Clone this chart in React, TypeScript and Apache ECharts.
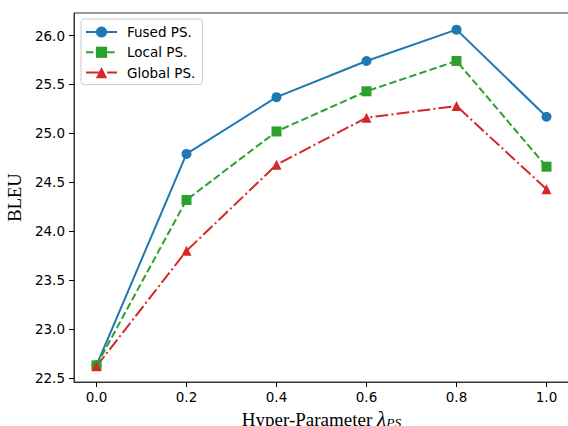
import React, { useEffect, useRef } from "react";
import * as echarts from "echarts";

const xValues = [0.0, 0.2, 0.4, 0.6, 0.8, 1.0];
const fused = [22.63, 24.79, 25.37, 25.74, 26.06, 25.17];
const local = [22.63, 24.32, 25.02, 25.43, 25.74, 24.66];
const globalPS = [22.62, 23.8, 24.68, 25.16, 25.28, 24.43];
const xTicks = [0.0, 0.2, 0.4, 0.6, 0.8, 1.0];
const yTicks = [22.5, 23.0, 23.5, 24.0, 24.5, 25.0, 25.5, 26.0];

const SANS = "DejaVu Sans";
const SERIF = "Liberation Serif";

export default function App() {
  const ref = useRef<HTMLDivElement>(null);
  useEffect(() => {
    if (!ref.current) return;
    const chart = echarts.init(ref.current, undefined, { renderer: "svg" });
    const mk = (name: string, data: number[], color: string, symbol: string, type: any) => ({
      name,
      type: "line",
      data: xValues.map((x, i) => [x, data[i]]),
      symbol,
      symbolSize: 10,
      showSymbol: true,
      lineStyle: { color, width: 2, type },
      itemStyle: { color, borderWidth: 0 },
      emphasis: { disabled: true },
      z: 3,
    });
    chart.setOption({
      animation: false,
      backgroundColor: "#ffffff",
      grid: {
        left: 74,
        top: 13,
        width: 495,
        height: 369,
        show: true,
        borderColor: "#333",
        borderWidth: 1,
        backgroundColor: "transparent",
        containLabel: false,
        outerBoundsMode: "none",
      },
      legend: {
        orient: "vertical",
        left: 81,
        top: 19,
        padding: [6, 7, 5, 4],
        itemWidth: 31,
        itemHeight: 14,
        itemGap: 6.3,
        backgroundColor: "rgba(255,255,255,0.8)",
        borderColor: "#cccccc",
        borderWidth: 1,
        borderRadius: 3,
        textStyle: { fontFamily: SANS, fontSize: 13.5, color: "#000", padding: [0, 0, 0, 5] },
        data: ["Fused PS.", "Local PS.", "Global PS."],
      },
      xAxis: {
        type: "value",
        min: -0.05,
        max: 1.05,
        name: "{a|Hyper-Parameter }{b|λ}{c|PS}",
        nameLocation: "middle",
        nameGap: 24,
        nameTextStyle: {
          rich: {
            a: { fontFamily: SERIF, fontSize: 19, color: "#000" },
            b: { fontFamily: SERIF, fontSize: 21, fontStyle: "italic", color: "#000" },
            c: { fontFamily: SERIF, fontSize: 13.5, fontStyle: "italic", color: "#000", verticalAlign: "bottom", padding: [7, 0, 0, 0] },
          },
        },
        axisLine: { show: true, onZero: false, lineStyle: { color: "#333", width: 1 } },
        axisTick: { show: true, length: 5, customValues: xTicks, lineStyle: { color: "#000", width: 1 } },
        axisLabel: {
          customValues: xTicks,
          formatter: (v: number) => v.toFixed(1),
          fontFamily: SANS,
          fontSize: 13.5,
          color: "#000",
          margin: 8,
        },
        splitLine: { show: false },
      },
      yAxis: {
        type: "value",
        min: 22.46,
        max: 26.23,
        name: "BLEU",
        nameLocation: "middle",
        nameRotate: 90,
        nameGap: 47,
        nameTextStyle: { fontFamily: SERIF, fontSize: 18.5, color: "#000" },
        axisLine: { show: true, onZero: false, lineStyle: { color: "#333", width: 1 } },
        axisTick: { show: true, length: 5, customValues: yTicks, lineStyle: { color: "#000", width: 1 } },
        axisLabel: {
          customValues: yTicks,
          formatter: (v: number) => v.toFixed(1),
          fontFamily: SANS,
          fontSize: 13.5,
          color: "#000",
          margin: 9,
        },
        splitLine: { show: false },
      },
      series: [
        mk("Fused PS.", fused, "#1f77b4", "circle", "solid"),
        mk("Local PS.", local, "#2ca02c", "rect", [7.4, 3.2]),
        mk("Global PS.", globalPS, "#d62728", "triangle", [12.8, 3.2, 2, 3.2]),
      ],
    });
    return () => chart.dispose();
  }, []);
  return <div ref={ref} style={{ width: 568, height: 426, position: "absolute", left: 0, top: 0 }} />;
}
